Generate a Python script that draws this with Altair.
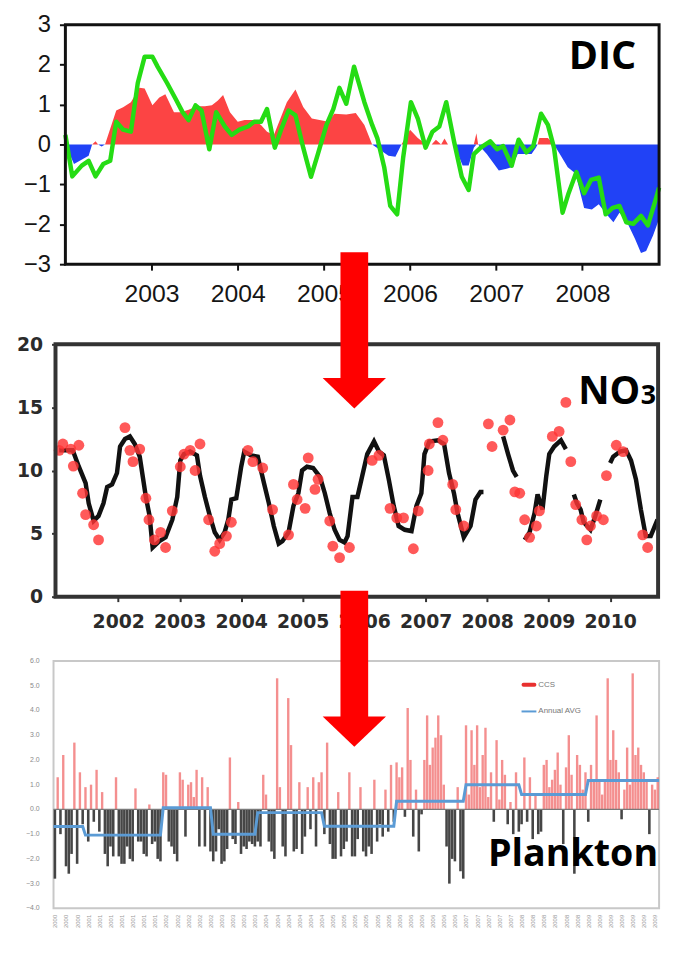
import altair as alt
import pandas as pd

# ---------------- DIC panel data ----------------
dic_line_year = [2002.00, 2002.08, 2002.19, 2002.27, 2002.35, 2002.44, 2002.52, 2002.59, 2002.67, 2002.76,
                 2002.84, 2002.92, 2003.01, 2003.07, 2003.18, 2003.28, 2003.36, 2003.43, 2003.51, 2003.58,
                 2003.67, 2003.75, 2003.85, 2003.93, 2004.02, 2004.12, 2004.19, 2004.27, 2004.34, 2004.43,
                 2004.51, 2004.59, 2004.67, 2004.76, 2004.85, 2004.93, 2005.03, 2005.11, 2005.18, 2005.26,
                 2005.35, 2005.47, 2005.56, 2005.62, 2005.70, 2005.77, 2005.85, 2005.92, 2006.01, 2006.09,
                 2006.18, 2006.26, 2006.34, 2006.42, 2006.51, 2006.60, 2006.68, 2006.74, 2006.82, 2006.93,
                 2007.01, 2007.08, 2007.18, 2007.26, 2007.35, 2007.43, 2007.52, 2007.60, 2007.67, 2007.77,
                 2007.84, 2007.93, 2008.02, 2008.10, 2008.19, 2008.27, 2008.35, 2008.43, 2008.51, 2008.59,
                 2008.68, 2008.76, 2008.85, 2008.89]
dic_line_val = [0.24, -0.80, -0.53, -0.41, -0.80, -0.49, -0.41, 0.57, 0.37, 0.32,
                1.54, 2.20, 2.20, 1.95, 1.54, 1.14, 0.81, 0.61, 0.98, 0.85,
                -0.12, 0.81, 0.45, 0.24, 0.37, 0.45, 0.57, 0.57, 0.89, -0.08,
                0.41, 0.85, 0.73, -0.08, -0.81, -0.24, 0.49, 0.89, 1.42, 1.02,
                1.95, 1.06, 0.49, 0.16, -0.57, -1.54, -1.75, -0.33, 1.06, 0.65,
                -0.08, 0.32, 0.45, 1.06, 0.08, -0.81, -1.14, -0.24, -0.08, 0.08,
                -0.12, -0.04, -0.53, 0.12, -0.20, -0.04, 0.77, 0.49, -0.08, -1.71,
                -1.22, -0.69, -1.22, -0.89, -0.83, -1.75, -1.59, -1.54, -1.95, -1.99,
                -1.79, -2.03, -1.38, -1.08]
dic_area_year = [2002.00, 2002.10, 2002.27, 2002.31, 2002.35, 2002.38, 2002.42, 2002.46, 2002.59, 2002.67,
                 2002.76, 2002.86, 2002.92, 2003.01, 2003.09, 2003.16, 2003.26, 2003.34, 2003.43, 2003.53,
                 2003.62, 2003.70, 2003.77, 2003.83, 2003.91, 2004.00, 2004.08, 2004.19, 2004.27, 2004.34,
                 2004.42, 2004.57, 2004.67, 2004.76, 2004.86, 2004.95, 2005.05, 2005.12, 2005.26, 2005.37,
                 2005.47, 2005.56, 2005.75, 2005.83, 2005.90, 2006.00, 2006.09, 2006.19, 2006.25, 2006.30,
                 2006.36, 2006.40, 2006.44, 2006.51, 2006.61, 2006.68, 2006.74, 2006.77, 2006.79, 2006.89,
                 2007.03, 2007.12, 2007.18, 2007.25, 2007.41, 2007.46, 2007.48, 2007.50, 2007.60, 2007.67,
                 2007.75, 2007.83, 2007.92, 2008.02, 2008.11, 2008.19, 2008.28, 2008.36, 2008.43, 2008.51,
                 2008.61, 2008.68, 2008.74, 2008.82, 2008.89]
dic_area_val = [0, -0.49, -0.28, 0, 0.08, 0, -0.05, 0, 0.85, 0.93,
                1.06, 1.42, 1.40, 0.98, 1.18, 1.26, 0.81, 0.81, 0.87, 0.96,
                0.96, 0.98, 1.10, 1.24, 0.81, 0.57, 0.61, 0.61, 0.49, 0.32,
                0.24, 1.06, 1.38, 0.94, 0.65, 0.61, 0.57, 0.77, 0.75, 0.79,
                0.49, 0, -0.28, -0.31, 0, 0.37, 0.16, 0, 0, 0.12,
                0, 0.15, 0, 0, -0.53, -0.53, -0.08, 0.28, 0, -0.24,
                -0.65, -0.61, -0.57, -0.24, -0.24, -0.08, 0, 0.16, 0.16, 0,
                -0.28, -0.57, -0.73, -1.59, -1.63, -1.50, -1.75, -1.95, -1.71, -1.91,
                -2.36, -2.72, -2.67, -2.28, -1.87]
dic_xticks = [2003, 2004, 2005, 2006, 2007, 2008]
dic_yticks = [-3, -2, -1, 0, 1, 2, 3]

# ---------------- NO3 panel data ----------------
no3_seg1_year = [2001.04, 2001.26, 2001.36, 2001.47, 2001.52, 2001.60, 2001.68, 2001.76, 2001.82, 2001.90,
                 2001.98, 2002.03, 2002.11, 2002.19, 2002.27, 2002.35, 2002.40, 2002.45, 2002.51, 2002.56,
                 2002.67, 2002.77, 2002.88, 2002.96, 2003.01, 2003.07, 2003.17, 2003.28, 2003.33, 2003.41,
                 2003.49, 2003.57, 2003.65, 2003.73, 2003.79, 2003.84, 2003.92, 2004.00, 2004.05, 2004.16,
                 2004.27, 2004.37, 2004.45, 2004.53, 2004.61, 2004.67, 2004.77, 2004.85, 2004.93, 2004.99,
                 2005.07, 2005.17, 2005.28, 2005.36, 2005.44, 2005.52, 2005.60, 2005.68, 2005.73, 2005.81,
                 2005.89, 2005.97, 2006.05, 2006.16, 2006.24, 2006.32, 2006.40, 2006.48, 2006.56, 2006.66,
                 2006.77, 2006.85, 2006.93, 2006.98, 2007.06, 2007.20, 2007.30, 2007.38, 2007.46, 2007.52,
                 2007.62, 2007.73, 2007.81, 2007.89, 2007.94]
no3_seg1_val = [11.6, 11.6, 10.3, 9.0, 7.4, 6.0, 6.4, 7.4, 8.7, 8.9,
                9.8, 11.9, 12.5, 12.7, 12.1, 11.1, 9.5, 7.9, 6.4, 3.9,
                4.4, 4.7, 6.1, 7.9, 10.8, 11.3, 11.5, 11.2, 9.6, 7.9,
                6.4, 5.1, 4.5, 5.1, 6.1, 7.7, 7.8, 10.3, 11.5, 11.2,
                11.1, 9.0, 7.4, 5.6, 4.2, 4.4, 5.1, 7.2, 8.2, 10.0,
                10.3, 10.2, 9.5, 8.2, 6.6, 5.3, 4.5, 4.3, 4.8, 7.9,
                7.9, 9.6, 11.3, 12.3, 11.5, 11.2, 9.3, 7.2, 5.6, 5.3,
                5.2, 7.2, 8.2, 11.3, 12.3, 12.4, 12.1, 9.8, 8.2, 6.6,
                4.7, 5.6, 7.7, 8.3, 8.3]
no3_seg2_year = [2008.26, 2008.34, 2008.42, 2008.48]
no3_seg2_val = [12.7, 11.3, 10.0, 9.5]
no3_seg3_year = [2008.61, 2008.69, 2008.77, 2008.82, 2008.90, 2008.96, 2009.01, 2009.09, 2009.20, 2009.28]
no3_seg3_val = [4.5, 5.1, 6.6, 8.1, 6.9, 9.5, 11.3, 11.9, 12.4, 11.7]
no3_seg4_year = [2009.41, 2009.46, 2009.52, 2009.57, 2009.68, 2009.76, 2009.84]
no3_seg4_val = [8.1, 7.4, 6.9, 5.9, 5.3, 6.4, 7.7]
no3_seg5_year = [2010.00, 2010.05, 2010.16, 2010.26, 2010.34, 2010.42, 2010.50, 2010.58, 2010.66, 2010.77]
no3_seg5_val = [10.6, 11.1, 11.5, 11.6, 10.8, 9.3, 6.9, 4.8, 4.8, 6.1]

no3_dot_year = [2001.04, 2001.10, 2001.23, 2001.27, 2001.36, 2001.42, 2001.47, 2001.60, 2001.68, 2002.11,
                2002.19, 2002.24, 2002.35, 2002.45, 2002.50, 2002.59, 2002.69, 2002.77, 2002.88, 2003.01,
                2003.07, 2003.17, 2003.25, 2003.33, 2003.47, 2003.57, 2003.65, 2003.76, 2003.84, 2004.11,
                2004.19, 2004.35, 2004.51, 2004.77, 2004.85, 2004.91, 2005.04, 2005.09, 2005.20, 2005.25,
                2005.44, 2005.49, 2005.60, 2005.76, 2006.13, 2006.24, 2006.42, 2006.53, 2006.64, 2006.80,
                2006.88, 2007.04, 2007.06, 2007.20, 2007.28, 2007.44, 2007.49, 2007.62, 2008.02, 2008.08,
                2008.26, 2008.37, 2008.45, 2008.53, 2008.61, 2008.69, 2008.80, 2008.85, 2009.06, 2009.17,
                2009.28, 2009.36, 2009.44, 2009.54, 2009.62, 2009.68, 2009.78, 2009.89, 2009.94, 2010.10,
                2010.21, 2010.53, 2010.61]
no3_dot_val = [11.6, 12.1, 11.7, 10.35, 12.0, 8.2, 6.5, 5.7, 4.5, 13.4,
               11.6, 10.7, 11.7, 7.8, 6.1, 4.5, 5.1, 3.9, 6.8, 10.3,
               11.3, 11.6, 10.0, 12.1, 6.1, 3.6, 4.2, 4.8, 5.9, 11.6,
               10.7, 10.2, 6.9, 4.9, 8.9, 7.7, 7.0, 11.0, 8.5, 9.3,
               6.0, 4.0, 3.1, 3.9, 10.8, 11.2, 7.0, 6.25, 6.25, 3.8,
               6.8, 10.0, 12.1, 13.8, 12.4, 8.9, 6.9, 5.6, 13.7, 11.9,
               13.2, 14.0, 8.3, 8.2, 6.1, 4.7, 5.6, 6.8, 12.7, 13.1,
               15.4, 10.7, 7.3, 6.1, 4.5, 5.6, 6.4, 6.1, 9.6, 12.0,
               11.5, 4.9, 3.9]
no3_xticks = [2002, 2003, 2004, 2005, 2006, 2007, 2008, 2009, 2010]
no3_yticks = [0, 5, 10, 15, 20]

# ---------------- Plankton panel data ----------------
plk_years = [2000, 2001, 2002, 2003, 2004, 2005, 2006, 2007, 2008, 2009]
ccs_2000 = [-2.8, 1.3, -1.0, 2.2, -2.3, -2.6, -1.8, 2.7, -2.2, 1.5, -0.6]
ccs_2001 = [0.9, -1.3, 1.0, -0.5, 1.6, -0.9, 0.7, -1.8, -2.3, -1.5, -1.9, 1.3, -1.9, -2.2,
            -2.2, -1.5, -2.0, -2.1, 0.85, -1.3, -1.3, -1.8, -1.9, 0.2, -1.4, -1.3, -2.0, -2.1]
ccs_2002 = [1.5, 1.4, -1.3, -1.5, -1.8, -2.1, 1.5, 1.2, -1.1, 1.0, 1.1, 0.5, 1.6, -1.5, 1.3, -1.5, 0.9, -1.7]
ccs_2003 = [-2.1, -1.7, -0.8, -2.2, -2.1, -1.6, 2.1, -1.2, -1.4, 0.3, -1.8, -1.5, -1.6, -1.3, -1.4, -1.5]
ccs_2004 = [-1.3, -1.5, 1.4, 0.6, -1.3, -1.7, -2.0, 5.3, 0.9, -1.5, -1.9, 4.5, 2.6, -1.7,
            -1.6, 1.1, -1.8, -1.1, 0.9, -0.8, 1.3, -1.5, 1.1, 1.5]
ccs_2005 = [-1.0, 2.7, -1.4, -2.0, -2.0, 0.7, -1.9, -1.6, -1.3, 1.5, -1.9, -1.9, -1.2, 0.9,
            -1.7, -1.9, -1.5, -1.8, 1.2, -1.3, -0.6, -1.1, 0.8, -0.9, 1.8, -0.5]
ccs_2006 = [1.9, 1.3, 1.7, -0.3, 4.1, 2.0, -1.1, 0.8, -1.7, -0.2, 2.0, 3.8, 1.8, 2.5, 2.9,
            3.8, 3.0, 1.0, -1.5, -3.0, -2.0, -2.1, 0.9, -2.5, -2.8]
ccs_2007 = [3.4, 0.6, 3.2, 1.8, 3.4, 0.9, 2.2, 3.3, 0.5, 1.5, -0.5, 2.8, 0.4, 2.0, 1.4,
            -0.6, 0.3, -1.0, 1.5, -0.9]
ccs_2008 = [-0.6, 2.1, -0.5, 1.3, -1.2, 0.6, -1.0, -0.9, 1.8, 2.0, 0.9, 1.2, 1.6, 2.3, 1.0,
            -1.4, 1.7, 3.0, 1.4, -2.6, 2.2, 1.8, 0.8, 1.5]
ccs_2009 = [-0.5, 1.8, 1.2, 3.8, 1.2, 0.6, 1.2, 5.3, 2.0, 3.2, 2.0, 1.5, -0.4, 0.8, 2.5,
            1.0, 5.5, 2.2, 2.5, 1.8, 1.5, 1.2, -1.0, 1.0, 0.8, 1.3]
annual_avg = [-0.69, -1.04, 0.07, -1.0, -0.13, -0.68, 0.33, 1.0, 0.6, 1.17]
plk_yticks = [-4, -3, -2, -1, 0, 1, 2, 3, 4, 5, 6]

# ---------------- helpers ----------------
SANS = "Liberation Sans, Arial, sans-serif"
BOLD = "Open Sans"
one = pd.DataFrame({"k": [0]})


def label_text(s, x, y, size):
    # right-aligned so that the text grows leftwards, inside the page
    return alt.Chart(one).mark_text(
        text=s, font=BOLD, fontWeight="bold", fontSize=size, align="right",
        baseline="alphabetic", color="#000000"
    ).encode(x=alt.value(x), y=alt.value(y))


def arrow(x0, x1, ytop, ybase, head_w):
    shaft = alt.Chart(one).mark_rect(color="#ff0000").encode(
        x=alt.value(x0), x2=alt.value(x1), y=alt.value(ytop), y2=alt.value(ybase + 1))
    head = alt.Chart(one).mark_point(
        shape="M -1 -0.48 L 1 -0.48 L 0 0.48 Z", size=head_w * head_w, filled=True,
        color="#ff0000", opacity=1, strokeWidth=0
    ).encode(x=alt.value((x0 + x1) / 2), y=alt.value(ybase + 0.48 * head_w / 2))
    return [shaft, head]


def frame(x0, x1, h, color, width):
    return alt.Chart(one).mark_rect(filled=False, stroke=color, strokeWidth=width).encode(
        x=alt.value(x0), x2=alt.value(x1), y=alt.value(0), y2=alt.value(h))


def spacer(w, h):
    return alt.Chart(one).mark_point(opacity=0, size=1).encode(
        x=alt.value(0), y=alt.value(0)
    ).properties(width=w, height=h, view=alt.ViewBackground(stroke="transparent", strokeWidth=0))


NOFRAME = alt.ViewBackground(stroke="transparent", strokeWidth=0)

# ---------------- Panel 1: DIC ----------------
W1, H1, OFF1 = 612, 242, 12
dic_line_df = pd.DataFrame({"year": dic_line_year, "val": dic_line_val})
dic_area_df = pd.DataFrame({"year": dic_area_year, "val": dic_area_val})

x1s = alt.Scale(domain=[2002.0, 2008.89], nice=False, zero=False, range=[OFF1, W1])
y1s = alt.Scale(domain=[-3, 3], nice=False, zero=False)
x1a = alt.Axis(values=dic_xticks, format="d", title=None, grid=False, domain=False,
               tickSize=6, tickWidth=2, tickColor="#111111", labelFont=SANS, labelFontSize=25,
               labelColor="#151515", labelPadding=12, labelFlush=False)
y1a = alt.Axis(values=dic_yticks, format="d", title=None, grid=False, domain=False, offset=-OFF1,
               tickSize=6, tickWidth=2, tickColor="#111111", labelFont=SANS, labelFontSize=24,
               labelColor="#151515", labelPadding=9)

red_area = alt.Chart(dic_area_df).transform_calculate(pos="max(datum.val, 0)").mark_area(
    color="#fc4444").encode(x=alt.X("year:Q", scale=x1s, axis=x1a),
                            y=alt.Y("pos:Q", scale=y1s, axis=y1a), y2=alt.datum(0))
blue_area = alt.Chart(dic_area_df).transform_calculate(neg="min(datum.val, 0)").mark_area(
    color="#2142f6").encode(x=alt.X("year:Q", scale=x1s, axis=x1a),
                            y=alt.Y("neg:Q", scale=y1s, axis=y1a), y2=alt.datum(0))
green = alt.Chart(dic_line_df).mark_line(color="#25dc14", strokeWidth=4.5, strokeJoin="round").encode(
    x=alt.X("year:Q", scale=x1s, axis=x1a), y=alt.Y("val:Q", scale=y1s, axis=y1a))

p1 = alt.layer(red_area, blue_area, green, frame(OFF1, W1, H1, "#111111", 3),
               label_text("DIC", 589, 45, 40)).properties(width=W1, height=H1, view=NOFRAME)

# ---------------- Panel 2: NO3 ----------------
W2, H2, OFF2 = 611, 255, 2
segs = [(no3_seg1_year, no3_seg1_val), (no3_seg2_year, no3_seg2_val), (no3_seg3_year, no3_seg3_val),
        (no3_seg4_year, no3_seg4_val), (no3_seg5_year, no3_seg5_val)]
rows = []
for i, (ys, vs) in enumerate(segs):
    for a, b in zip(ys, vs):
        rows.append({"year": a, "val": b, "seg": i})
no3_line_df = pd.DataFrame(rows)
no3_dot_df = pd.DataFrame({"year": no3_dot_year, "val": no3_dot_val})

x2s = alt.Scale(domain=[2000.98, 2010.78], nice=False, zero=False, range=[OFF2, W2])
y2s = alt.Scale(domain=[0, 20], nice=False)
x2a = alt.Axis(values=no3_xticks, format="d", title=None, grid=False, domain=False,
               tickSize=5, tickWidth=2, tickColor="#333333", labelFont="DejaVu Sans",
               labelFontWeight="bold", labelFontSize=19, labelColor="#2b2b2b", labelPadding=11,
               labelFlush=False)
y2a = alt.Axis(values=no3_yticks, format="d", title=None, grid=False, domain=False, offset=-OFF2,
               tickSize=4, tickWidth=2, tickColor="#333333", labelFont="DejaVu Sans",
               labelFontWeight="bold", labelFontSize=19, labelColor="#2b2b2b", labelPadding=9)

no3_line = alt.Chart(no3_line_df).mark_line(color="#111111", strokeWidth=4.5).encode(
    x=alt.X("year:Q", scale=x2s, axis=x2a), y=alt.Y("val:Q", scale=y2s, axis=y2a), detail="seg:N")
no3_dots = alt.Chart(no3_dot_df).mark_circle(size=120, color="#ff3535", opacity=0.82).encode(
    x=alt.X("year:Q", scale=x2s, axis=x2a), y=alt.Y("val:Q", scale=y2s, axis=y2a))

p2 = alt.layer(no3_line, no3_dots, frame(OFF2, W2, H2, "#333333", 4),
               label_text("NO", 593, 60, 39), label_text("3", 609, 60, 27),
               *arrow(290, 318, -93, 34, 64)).properties(width=W2, height=H2, view=NOFRAME)

# ---------------- Panel 3: Plankton ----------------
W3, H3 = 612, 250
year_vals = [ccs_2000, ccs_2001, ccs_2002, ccs_2003, ccs_2004, ccs_2005, ccs_2006, ccs_2007,
             ccs_2008, ccs_2009]
bar_rows, step_rows, sample_year = [], [], []
start = 0
for k, (yr, vals) in enumerate(zip(plk_years, year_vals)):
    for j, v in enumerate(vals):
        bar_rows.append({"x": start + j + 0.5, "val": v})
        sample_year.append(yr)
    end = start + len(vals)
    step_rows.append({"ord": 2 * k, "x": start + (0.5 if k > 0 else 0), "avg": annual_avg[k]})
    step_rows.append({"ord": 2 * k + 1, "x": end - (0.5 if k < len(plk_years) - 1 else 0), "avg": annual_avg[k]})
    start = end
N = start
plk_df = pd.DataFrame(bar_rows)
step_df = pd.DataFrame(step_rows)
ytick_df = pd.DataFrame({"v": plk_yticks})

tick_idx = list(range(0, N, 4))
lab_arr = "[" + ",".join("'%d'" % sample_year[i] for i in tick_idx) + "]"

x3s = alt.Scale(domain=[0, N], nice=False, zero=False)
y3s = alt.Scale(domain=[-4, 6], nice=False)
x3a = alt.Axis(values=[i + 0.5 for i in tick_idx], title=None, grid=False, domain=False, ticks=False,
               labelAngle=270, labelFont=SANS, labelFontSize=6, labelColor="#9a9a9a",
               labelPadding=6, labelOverlap=False, labelFlush=False,
               labelExpr=lab_arr + "[round((datum.value - 0.5) / 4)]")
y3a = alt.Axis(values=plk_yticks, title=None, grid=False, domain=False, ticks=False, labels=False)

pos_bars = alt.Chart(plk_df).transform_filter("datum.val > 0").mark_rule(
    color="#f06464", strokeWidth=2.4, opacity=0.72).encode(
    x=alt.X("x:Q", scale=x3s, axis=x3a), y=alt.Y("val:Q", scale=y3s, axis=y3a), y2=alt.datum(0))
neg_bars = alt.Chart(plk_df).transform_filter("datum.val <= 0").mark_rule(
    color="#262626", strokeWidth=2.6, opacity=0.85).encode(
    x=alt.X("x:Q", scale=x3s, axis=x3a), y=alt.Y("val:Q", scale=y3s, axis=y3a), y2=alt.datum(0))
zero_line = alt.Chart(one).mark_rule(color="#7a7a7a", strokeWidth=1.2).encode(
    y=alt.datum(0))
step_line = alt.Chart(step_df).mark_line(color="#5b9bd5", strokeWidth=3).encode(
    x=alt.X("x:Q", scale=x3s, axis=x3a), y=alt.Y("avg:Q", scale=y3s, axis=y3a), order="ord:Q")
ytick_text = alt.Chart(ytick_df).mark_text(font=SANS, fontSize=7, color="#8a8a8a", align="right",
                                           baseline="middle").encode(
    x=alt.value(-14), y=alt.Y("v:Q", scale=y3s, axis=y3a), text=alt.Text("v:Q", format=".1f"))

leg_red = alt.Chart(one).mark_rule(color="#e8302f", strokeWidth=4, strokeCap="round").encode(
    x=alt.value(475), x2=alt.value(486), y=alt.value(24))
leg_blue = alt.Chart(one).mark_rule(color="#5b9bd5", strokeWidth=2).encode(
    x=alt.value(473), x2=alt.value(488), y=alt.value(51))
leg_t1 = alt.Chart(one).mark_text(text="CCS", font=SANS, fontSize=8, color="#777777",
                                  align="left", baseline="middle").encode(x=alt.value(490), y=alt.value(24))
leg_t2 = alt.Chart(one).mark_text(text="Annual AVG", font=SANS, fontSize=8, color="#777777",
                                  align="left", baseline="middle").encode(x=alt.value(490), y=alt.value(51))
# white (invisible on white) anchor that fixes the left edge of the drawing
anchor = alt.Chart(one).mark_rule(color="#ffffff", strokeWidth=1).encode(
    x=alt.value(-44), y=alt.value(100), y2=alt.value(101))

p3 = alt.layer(pos_bars, neg_bars, zero_line, step_line, ytick_text, leg_red, leg_blue, leg_t1, leg_t2,
               label_text("Plankton", 611, 207, 38), anchor,
               *arrow(290, 318, -71, 56, 64)).properties(
    width=W3, height=H3, view=alt.ViewBackground(stroke="#c8c8c8", strokeWidth=2))

# ---------------- layout ----------------
chart = alt.vconcat(p1, spacer(1, 81), p2, spacer(1, 65), p3, spacing=0, bounds="flush").properties(
    padding={"left": 0, "top": 0, "right": 0, "bottom": 0}, background="white")

chart.save("out.html", embed_options={"renderer": "svg", "actions": False})
